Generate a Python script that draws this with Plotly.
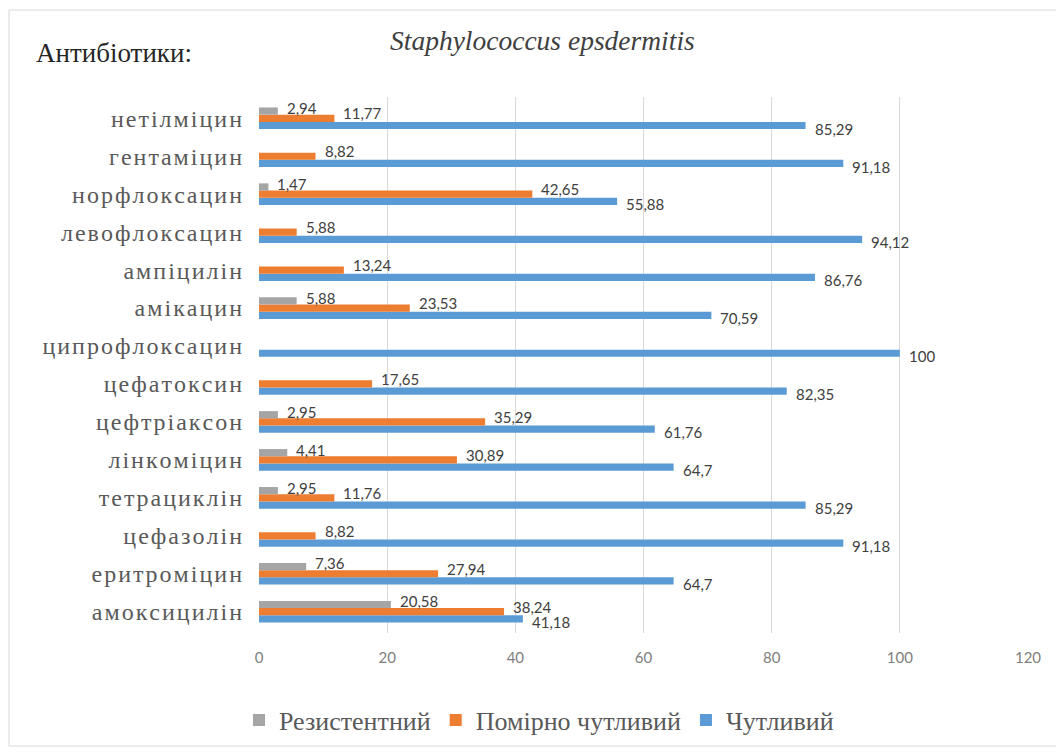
import plotly.graph_objects as go

categories = ["амоксицилін", "еритроміцин", "цефазолін", "тетрациклін", "лінкоміцин",
              "цефтріаксон", "цефатоксин", "ципрофлоксацин", "амікацин", "ампіцилін",
              "левофлоксацин", "норфлоксацин", "гентаміцин", "нетілміцин"]
resistant = [20.58, 7.36, 0, 2.95, 4.41, 2.95, 0, 0, 5.88, 0, 0, 1.47, 0, 2.94]
moderate = [38.24, 27.94, 8.82, 11.76, 30.89, 35.29, 17.65, 0, 23.53, 13.24, 5.88, 42.65, 8.82, 11.77]
sensitive = [41.18, 64.7, 91.18, 85.29, 64.7, 61.76, 82.35, 100, 70.59, 86.76, 94.12, 55.88, 91.18, 85.29]
x_ticks = [0, 20, 40, 60, 80, 100, 120]


def fmt(v):
    return ("%g" % v).replace(".", ",")


def spaced(s, sep="\u200a"):
    return sep.join(list(s))


series = [
    ("Чутливий", sensitive, "#5B9BD5"),
    ("Помірно чутливий", moderate, "#ED7D31"),
    ("Резистентний", resistant, "#A5A5A5"),
]

OFF = 8  # page body margin
W, H = 1064 - OFF, 755 - OFF
L, R, T, B = 259 - OFF, 1064 - 1028, 97 - OFF, 755 - 633
pw, ph = W - L - R, H - T - B
BARGAP = 0.43
slot = ph / len(categories)
bar_h = slot * (1 - BARGAP) / 3


def px(x):
    return (x - OFF - L) / pw


def py(y):
    return (H - (y - OFF) - B) / ph


fig = go.Figure()
for name, vals, color in series:
    fig.add_trace(go.Bar(
        y=categories, x=vals, orientation="h", name=name,
        marker=dict(color=color, line=dict(width=0)),
        cliponaxis=False, hoverinfo="x+y+name",
    ))

# data labels (skip zero values), positioned at each bar end via the axes
label_annots = []
yshifts = {"Чутливий": -bar_h - 3, "Помірно чутливий": 5, "Резистентний": bar_h + 3}
for name, vals, color in series:
    for cat, v in zip(categories, vals):
        if v == 0:
            continue
        label_annots.append(dict(
            x=v, y=cat, xref="x", yref="y", text=fmt(v), showarrow=False,
            xanchor="left", yanchor="middle", xshift=7, yshift=yshifts[name],
            font=dict(family="Lato, sans-serif", size=15, color="#404040")))

fig.update_layout(
    width=W, height=H,
    margin=dict(l=L, r=R, t=T, b=B),
    paper_bgcolor="white", plot_bgcolor="white",
    barmode="group", bargap=BARGAP, bargroupgap=0,
    showlegend=True,
    legend=dict(orientation="h", traceorder="reversed", xref="container", yref="container",
                x=(539 - OFF) / W, y=1 - (720 - OFF) / H, xanchor="center", yanchor="middle",
                font=dict(family="Liberation Serif, serif", size=26, color="#595959"),
                itemwidth=30),
    xaxis=dict(range=[0, 120], tickvals=x_ticks, showgrid=True, gridcolor="#D9D9D9",
               gridwidth=1, zeroline=False, showline=False,
               tickfont=dict(family="Lato, sans-serif", size=15, color="#808080"),
               ticks="", ticklabelstandoff=14),
    yaxis=dict(type="category", showgrid=False, zeroline=False, showline=False, ticks="",
               tickvals=categories, ticktext=[spaced(c) for c in categories],
               tickfont=dict(family="Liberation Serif, serif", size=24, color="#595959"),
               ticklabelstandoff=16),
    annotations=label_annots + [
        dict(text="<i>Staphylococcus epsdermitis</i>", xref="paper", yref="paper",
             x=px(542), y=py(40), xanchor="center", yanchor="middle",
             showarrow=False, font=dict(family="Liberation Serif, serif", size=27.5, color="#404040")),
        dict(text="Антибіотики:", xref="paper", yref="paper",
             x=px(34), y=py(53), xanchor="left", yanchor="middle",
             showarrow=False, font=dict(family="Liberation Serif, serif", size=27, color="#262626")),
    ],
    shapes=[dict(type="rect", xref="paper", yref="paper",
                 x0=px(9), x1=px(1075),
                 y0=py(746), y1=py(10),
                 line=dict(color="#D9D9D9", width=1), fillcolor="rgba(0,0,0,0)", layer="below")],
)

fig.write_html("out.html")
